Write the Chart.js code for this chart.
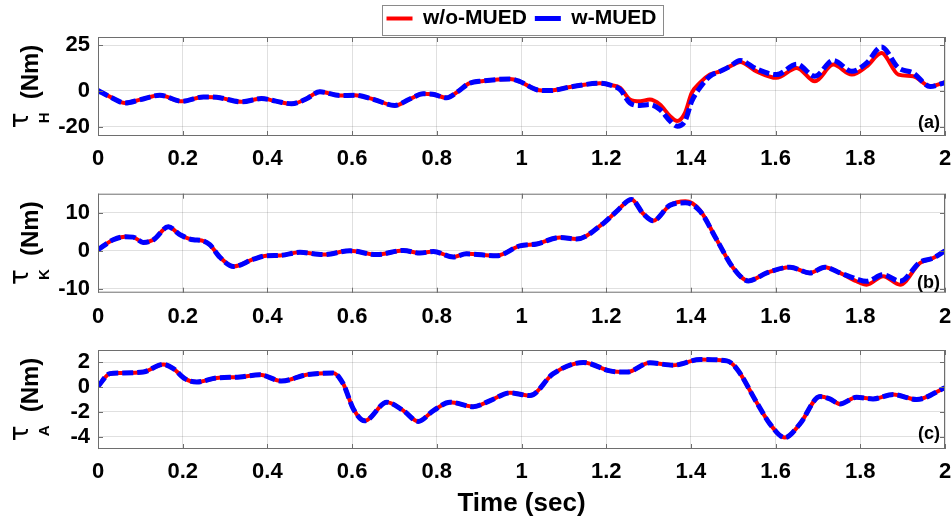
<!DOCTYPE html>
<html>
<head>
<meta charset="utf-8">
<script src="https://cdn.jsdelivr.net/npm/chart.js@4.4.1/dist/chart.umd.min.js"></script>
<style>
  html, body { margin: 0; padding: 0; background: #fff; }
  #wrap { position: relative; width: 952px; height: 523px; overflow: hidden; }
  #wrap canvas { position: absolute; left: 0; }
</style>
</head>
<body>
<div id="wrap">
  <canvas id="hipChart" width="952" height="172" style="top:0px"></canvas>
  <canvas id="kneeChart" width="952" height="156" style="top:172px"></canvas>
  <canvas id="ankleChart" width="952" height="197" style="top:326px"></canvas>
</div>
<script>
// series names
const seriesNames = ['w/o-MUED', 'w-MUED'];

// (a) hip torque
const timeH = [0, 0.03, 0.064, 0.10, 0.146, 0.198, 0.249, 0.28, 0.339, 0.386, 0.42, 0.457, 0.49, 0.524, 0.571, 0.607, 0.65, 0.701, 0.735, 0.768,
  0.79, 0.823, 0.85, 0.875, 0.91, 0.973, 0.996, 1.036, 1.067, 1.115, 1.185, 1.21, 1.233, 1.256, 1.28, 1.303, 1.327, 1.351, 1.368, 1.386,
  1.402, 1.421, 1.445, 1.469, 1.492, 1.516, 1.555, 1.602, 1.65, 1.693, 1.736, 1.78, 1.815, 1.85, 1.89, 1.925, 1.965, 2.0];
const tauH_woMUED = [0, -3.6, -6.8, -5.0, -2.6, -5.9, -3.5, -3.7, -6.2, -4.4, -5.8, -7.3, -4.8, -0.7, -2.7, -2.6, -4.8, -8.2, -4.8, -1.8,
  -2.0, -4.0, -0.5, 3.8, 5.3, 6.4, 5.0, 0.5, 0, 2.0, 4.0, 3.0, 1.5, -4.9, -5.9, -4.9, -7.7, -14.1, -16.8, -12.3,
  -1.3, 4.2, 8.8, 10.6, 13.3, 15.8, 10.6, 7.0, 12.5, 5.1, 14.3, 8.8, 13.3, 20.7, 8.8, 7.9, 2.4, 4.6];
const tauH_wMUED = [0, -3.6, -6.8, -5.0, -2.6, -5.9, -3.5, -3.7, -6.2, -4.4, -5.8, -7.3, -4.8, -0.7, -2.7, -2.6, -4.8, -8.2, -4.8, -1.8,
  -2.0, -4.0, -0.5, 3.8, 5.3, 6.4, 5.0, 0.5, 0, 2.0, 4.0, 3.0, 0.5, -6.8, -8.2, -7.7, -10.4, -16.8, -19.6, -16.8,
  -5.9, 1.5, 7.9, 10.6, 13.3, 16.6, 11.9, 8.8, 14.5, 7.9, 16.6, 10.6, 15.2, 24.0, 12.5, 9.7, 2.2, 4.4];
const yTicksH = [-20, 0, 25];

// (b) knee torque
const timeK = [0, 0.036, 0.064, 0.083, 0.107, 0.131, 0.166, 0.194, 0.225, 0.245, 0.264, 0.288, 0.32, 0.367, 0.398, 0.43, 0.477, 0.532, 0.595, 0.658,
  0.721, 0.76, 0.792, 0.839, 0.87, 0.941, 0.996, 1.036, 1.091, 1.13, 1.193, 1.224, 1.26, 1.287, 1.311, 1.351, 1.387, 1.421, 1.461, 1.5,
  1.536, 1.579, 1.634, 1.681, 1.716, 1.752, 1.791, 1.815, 1.854, 1.894, 1.941, 1.972, 2.0];
const tauK_woMUED = [0.3, 2.9, 3.7, 3.6, 2.2, 2.9, 6.3, 4.2, 2.9, 2.7, 1.6, -1.7, -4.1, -2.2, -1.3, -1.2, -0.4, -1.0, 0, -1.0,
  0.1, -0.6, -0.2, -1.6, -0.8, -1.3, 1.3, 1.8, 3.5, 3.1, 7.2, 10.3, 13.5, 9.8, 7.9, 12.0, 13.0, 10.7, 2.9, -4.5,
  -7.9, -5.8, -4.3, -5.8, -4.3, -5.8, -8.0, -8.9, -6.7, -8.9, -3.2, -1.9, 0];
const tauK_wMUED = [0.3, 2.9, 3.7, 3.6, 2.2, 2.9, 6.3, 4.2, 2.9, 2.7, 1.6, -1.7, -4.1, -2.2, -1.3, -1.2, -0.4, -1.0, 0, -1.0,
  0.1, -0.6, -0.2, -1.6, -0.8, -1.3, 1.3, 1.8, 3.5, 3.1, 7.2, 10.3, 13.5, 9.8, 7.9, 12.0, 12.6, 10.5, 2.9, -4.5,
  -7.9, -5.8, -4.3, -5.8, -4.3, -5.8, -7.4, -8.0, -6.3, -8.0, -3.0, -1.9, 0];
const yTicksK = [-10, 0, 10];

// (c) ankle torque
const timeA = [0, 0.028, 0.052, 0.107, 0.154, 0.178, 0.205, 0.233, 0.28, 0.335, 0.382, 0.433, 0.492, 0.555, 0.579, 0.603, 0.63, 0.682, 0.721, 0.756,
  0.792, 0.831, 0.886, 0.926, 0.973, 1.02, 1.075, 1.146, 1.209, 1.249, 1.303, 1.358, 1.422, 1.485, 1.508, 1.555, 1.587, 1.622, 1.657, 1.705,
  1.728, 1.752, 1.791, 1.83, 1.878, 1.933, 2.0];
const tauA_woMUED = [0.06, 1.09, 1.14, 1.22, 1.83, 1.5, 0.68, 0.41, 0.74, 0.82, 1.0, 0.49, 1.0, 1.14, 0.27, -1.77, -2.72, -1.22, -1.9, -2.77,
  -1.9, -1.22, -1.58, -1.09, -0.46, -0.68, 1.09, 1.99, 1.31, 1.22, 1.96, 1.77, 2.24, 2.12, 1.5, -1.22, -2.99, -4.08, -2.99, -0.76,
  -0.95, -1.36, -0.82, -0.95, -0.6, -1.0, -0.05];
const tauA_wMUED = [0.06, 1.09, 1.14, 1.22, 1.83, 1.5, 0.68, 0.41, 0.74, 0.82, 1.0, 0.49, 1.0, 1.14, 0.27, -1.77, -2.72, -1.22, -1.9, -2.77,
  -1.9, -1.22, -1.58, -1.09, -0.46, -0.68, 1.09, 1.99, 1.31, 1.22, 1.96, 1.77, 2.24, 2.12, 1.5, -1.22, -2.99, -4.08, -2.99, -0.76,
  -0.95, -1.36, -0.82, -0.95, -0.6, -1.0, -0.05];
const yTicksA = [-4, -2, 0, 2];

const FONT = '"Liberation Sans", Arial, Helvetica, sans-serif';
Chart.defaults.font.family = FONT;
Chart.defaults.color = '#000';

function toPoints(t, v) {
    return t.map((x, i) => ({ x: x, y: v[i] }));
}

// legend height fixed so the plot box starts at the same place as the figure
const legendFix = {
    id: 'legendFix',
    beforeInit(chart) {
        const fit = chart.legend.fit;
        chart.legend.fit = function () {
            fit.call(this);
            this.height = 37;
        };
    }
};

// box, inward ticks, panel tag, y title with subscript, legend frame
const panelDecor = {
    id: 'panelDecor',
    afterDraw(chart, args, opts) {
        const { ctx, chartArea: a, scales } = chart;
        ctx.save();
        ctx.strokeStyle = '#6e6e6e';
        ctx.lineWidth = 1;
        ctx.strokeRect(a.left + 0.5, a.top + 0.5, a.width - 1, a.height - 1);
        ctx.beginPath();
        scales.x.ticks.forEach(t => {
            const px = Math.round(scales.x.getPixelForValue(t.value)) + 0.5;
            ctx.moveTo(px, a.top); ctx.lineTo(px, a.top + 5);
            ctx.moveTo(px, a.bottom); ctx.lineTo(px, a.bottom - 5);
        });
        scales.y.ticks.forEach(t => {
            const py = Math.round(scales.y.getPixelForValue(t.value)) + 0.5;
            ctx.moveTo(a.left, py); ctx.lineTo(a.left + 5, py);
            ctx.moveTo(a.right, py); ctx.lineTo(a.right - 5, py);
        });
        ctx.stroke();

        // legend frame
        if (chart.legend && chart.legend.options.display && chart.legend.legendHitBoxes.length) {
            const hb = chart.legend.legendHitBoxes;
            const l = Math.min(...hb.map(b => b.left)) - 5;
            const r = Math.max(...hb.map(b => b.left + b.width)) + 6;
            const tp = hb[0].top - 3;
            const bt = hb[0].top + hb[0].height + 6;
            ctx.strokeStyle = '#8a8a8a';
            ctx.strokeRect(Math.round(l) + 0.5, Math.round(tp) + 0.5, Math.round(r - l), Math.round(bt - tp));
        }

        // panel tag
        ctx.fillStyle = '#000';
        ctx.font = 'bold 18px ' + FONT;
        ctx.textAlign = 'right';
        ctx.textBaseline = 'alphabetic';
        ctx.fillText(opts.tag, a.right - 5, a.bottom - opts.tagDy);

        // y title: tau with subscript, then (Nm)
        ctx.translate(38, (a.top + a.bottom) / 2);
        ctx.rotate(-Math.PI / 2);
        ctx.textAlign = 'left';
        ctx.font = 'bold 24px ' + FONT;
        const wMain = ctx.measureText('(Nm)').width;
        const total = 29 + wMain;
        const x0 = -total / 2;
        ctx.font = '26px "DejaVu Sans", sans-serif';
        ctx.fillText('\u03c4', x0, -10);
        ctx.font = 'bold 15px ' + FONT;
        ctx.fillText(opts.sub, x0 + 5, 11);
        ctx.font = 'bold 24px ' + FONT;
        ctx.fillText('(Nm)', x0 + 29, 0);
        ctx.restore();
    }
};

function makeChart(id, time, wo, w, yMin, yMax, yTicks, cfg) {
    const ctx = document.getElementById(id).getContext('2d');
    return new Chart(ctx, {
        type: 'line',
        data: {
            datasets: [{
                label: seriesNames[0],
                data: toPoints(time, wo),
                borderColor: '#ff0000',
                backgroundColor: '#ff0000',
                borderWidth: 4,
                pointRadius: 0,
                cubicInterpolationMode: 'monotone',
                order: 1
            }, {
                label: seriesNames[1],
                data: toPoints(time, w),
                borderColor: '#0000ff',
                backgroundColor: '#0000ff',
                borderWidth: 5,
                borderDash: [11, 4],
                pointRadius: 0,
                cubicInterpolationMode: 'monotone',
                order: 0
            }]
        },
        options: {
            responsive: false,
            animation: false,
            layout: { padding: { top: cfg.padTop, right: 0, left: 0, bottom: 0 } },
            scales: {
                x: {
                    type: 'linear',
                    min: 0,
                    max: 2,
                    afterFit: s => {
                        s.height = cfg.xHeight;
                        s.paddingLeft = 0;
                        s.paddingRight = 7;
                    },
                    ticks: {
                        stepSize: 0.2,
                        autoSkip: false,
                        maxRotation: 0,
                        padding: cfg.xPad,
                        font: { size: 22, weight: 'bold' },
                        callback: v => String(Math.round(v * 10) / 10)
                    },
                    grid: { color: 'rgba(0,0,0,0.12)', drawTicks: false },
                    border: { display: false },
                    title: {
                        display: !!cfg.xTitle,
                        text: cfg.xTitle || '',
                        font: { size: 26, weight: 'bold' },
                        padding: { top: 0, bottom: 4 }
                    }
                },
                y: {
                    min: yMin,
                    max: yMax,
                    afterFit: s => { s.width = 98; },
                    afterBuildTicks: s => { s.ticks = yTicks.map(v => ({ value: v })); },
                    ticks: {
                        padding: 8,
                        font: { size: 22, weight: 'bold' },
                        callback: v => String(v)
                    },
                    grid: { color: 'rgba(0,0,0,0.12)', drawTicks: false },
                    border: { display: false }
                }
            },
            plugins: {
                legend: {
                    display: !!cfg.legend,
                    position: 'top',
                    fullSize: false,
                    labels: {
                        usePointStyle: true,
                        pointStyle: 'line',
                        pointStyleWidth: 26,
                        padding: 8,
                        color: '#000',
                        font: { size: 21, weight: 'bold' },
                        sort: (a, b) => a.datasetIndex - b.datasetIndex
                    }
                },
                tooltip: { enabled: false },
                panelDecor: { tag: cfg.tag, sub: cfg.sub, tagDy: cfg.tagDy }
            }
        },
        plugins: cfg.legend ? [legendFix, panelDecor] : [panelDecor]
    });
}

makeChart('hipChart', timeH, tauH_woMUED, tauH_wMUED, -25, 29.5, yTicksH,
    { legend: true, padTop: 0, xHeight: 36, xPad: 10, tag: '(a)', sub: 'H', tagDy: 8 });
makeChart('kneeChart', timeK, tauK_woMUED, tauK_wMUED, -11, 15, yTicksK,
    { legend: false, padTop: 21.7, xHeight: 35.3, xPad: 11, tag: '(b)', sub: 'K', tagDy: 5 });
makeChart('ankleChart', timeA, tauA_woMUED, tauA_wMUED, -5, 3, yTicksA,
    { legend: false, padTop: 24, xHeight: 74, xPad: 10, tag: '(c)', sub: 'A', tagDy: 10, xTitle: 'Time (sec)' });
</script>
</body>
</html>
